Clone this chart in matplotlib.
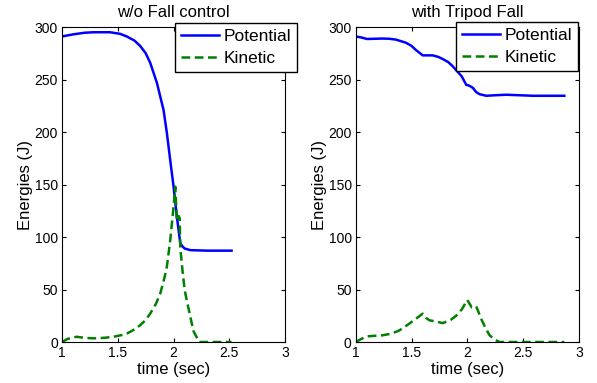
import matplotlib.pyplot as plt
import numpy as np

plt.rcParams['font.family'] = ['Liberation Sans', 'DejaVu Sans']

# w/o Fall control
t_pot_a = [1.0, 1.1, 1.2, 1.28, 1.43, 1.52, 1.58, 1.65, 1.70, 1.75, 1.79, 1.85, 1.91, 1.94, 1.97,
           2.0, 2.03, 2.06, 2.08, 2.10, 2.15, 2.3, 2.52]
e_pot_a = [291, 293, 294.5, 295, 295, 293.5, 291, 287, 282, 275, 266, 247, 221, 199, 173,
           148, 119, 94, 91, 89, 87.5, 87, 87]
t_kin_a = [1.0, 1.05, 1.13, 1.2, 1.28, 1.38, 1.46, 1.53, 1.58, 1.65, 1.70, 1.75, 1.79, 1.84, 1.88,
           1.92, 1.94, 1.97, 2.0, 2.015, 2.03, 2.045, 2.055, 2.06, 2.08, 2.10, 2.15, 2.18, 2.23, 2.52]
e_kin_a = [0, 3, 5, 4, 3.5, 4, 5, 6.5, 8, 12, 16, 21, 27, 36, 46,
           62, 72, 97, 129, 148, 115, 120, 118, 90, 68, 49, 24, 10, 0, 0]

# with Tripod Fall
t_pot_b = [1.0, 1.05, 1.10, 1.24, 1.30, 1.36, 1.45, 1.50, 1.54, 1.60, 1.65, 1.69, 1.74, 1.78, 1.83,
           1.87, 1.95, 1.99, 2.02, 2.05, 2.08, 2.11, 2.17, 2.25, 2.35, 2.59, 2.87]
e_pot_b = [291, 290, 288.6, 289, 288.8, 288, 285, 282, 278, 273, 273, 273, 271.5, 269.5, 266.5,
           262.5, 253, 245, 244, 242, 238, 236, 234.5, 235, 235.5, 234.5, 234.5]
t_kin_b = [1.0, 1.05, 1.10, 1.24, 1.32, 1.39, 1.48, 1.55, 1.60, 1.63, 1.66, 1.72, 1.78, 1.85, 1.90,
           1.95, 2.0, 2.04, 2.08, 2.13, 2.17, 2.20, 2.25, 2.29, 2.5, 2.87]
e_kin_b = [0, 3, 5.4, 6.4, 8, 11, 17.5, 23, 27, 23, 20.7, 19.5, 18, 21, 25,
           31, 40, 33, 34, 20.7, 12, 6.4, 2, 0, 0, 0]

titles = ['w/o Fall control', 'with Tripod Fall']
series = [(t_pot_a, e_pot_a, t_kin_a, e_kin_a), (t_pot_b, e_pot_b, t_kin_b, e_kin_b)]
xticks = [1, 1.5, 2, 2.5, 3]
xticklabels = ['1', '1.5', '2', '2.5', '3']
yticks = [0, 50, 100, 150, 200, 250, 300]

fig = plt.figure(figsize=(5.97, 3.83), dpi=100)
lefts = [0.104, 0.596]
legend_corners = [(0.4975, 0.940), (0.968, 0.943)]

for i in range(2):
    ax = fig.add_axes([lefts[i], 0.107, 0.3735, 0.8225])
    tp, ep, tk, ek = series[i]
    ax.plot(tp, ep, color='#0000ff', lw=1.8, label='Potential')
    ax.plot(tk, ek, color='#008000', lw=1.8, ls=(0, (3.5, 1.8)), label='Kinetic')
    ax.set_xlim(1, 3)
    ax.set_ylim(0, 300)
    ax.set_xticks(xticks)
    ax.set_xticklabels(xticklabels)
    ax.set_yticks(yticks)
    ax.tick_params(direction='in', top=True, right=True, labelsize=10, length=3, pad=3)
    ax.set_xlabel('time (sec)', fontsize=12, labelpad=1)
    ax.set_ylabel('Energies (J)', fontsize=12, labelpad=1)
    ax.set_title(titles[i], fontsize=12, pad=7)
    leg = ax.legend(loc='upper right', bbox_to_anchor=legend_corners[i],
                    bbox_transform=fig.transFigure, fontsize=12.5, fancybox=False,
                    edgecolor='black', framealpha=1, borderaxespad=0, borderpad=0.35,
                    handlelength=2.2, handletextpad=0.25, labelspacing=0.4)
    leg.get_frame().set_linewidth(1)
    leg.set_zorder(5)

fig.savefig('out.png', dpi=100)
